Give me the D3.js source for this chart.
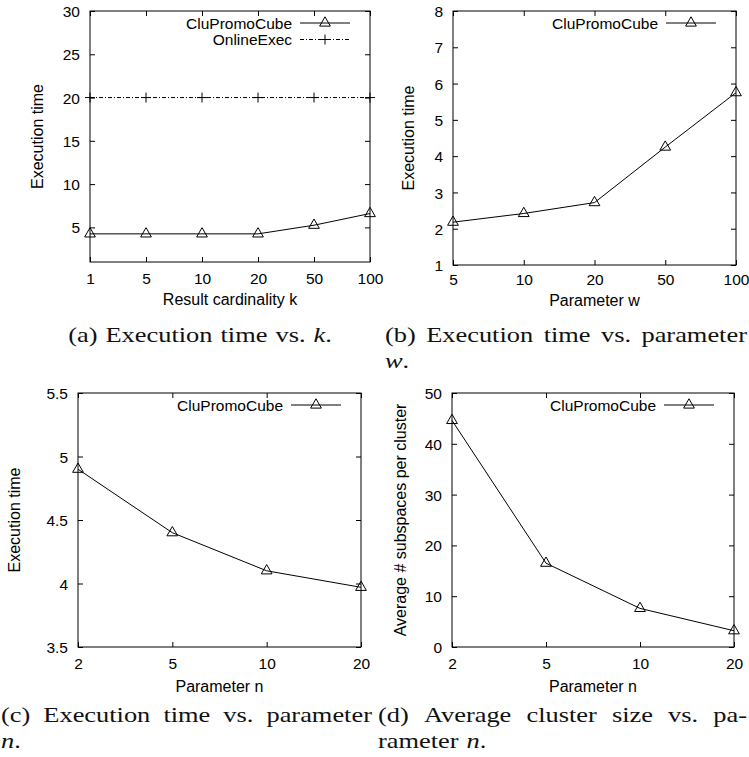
<!DOCTYPE html>
<html>
<head>
<meta charset="utf-8">
<script src="https://cdn.jsdelivr.net/npm/d3@7"></script>
<style>
  body { margin: 0; background: #fff; }
  text { font-family: "Liberation Sans", Arial, sans-serif; fill: #000; }
  .cap { font-family: "Liberation Serif", "Times New Roman", serif; fill: #111; }
</style>
</head>
<body>
<svg id="fig" width="749" height="757"></svg>
<script>
// ---- data ----
var kCats = ["1", "5", "10", "20", "50", "100"];
var kCube = [4.25, 4.25, 4.25, 4.25, 5.25, 6.6];
var kOnline = [20, 20, 20, 20, 20, 20];
var kTicks = [5, 10, 15, 20, 25, 30];

var wCats = ["5", "10", "20", "50", "100"];
var wCube = [2.18, 2.42, 2.72, 4.25, 5.75];
var wTicks = [1, 2, 3, 4, 5, 6, 7, 8];

var nCats = ["2", "5", "10", "20"];
var nTime = [4.9, 4.4, 4.1, 3.97];
var nTimeTicks = [3.5, 4, 4.5, 5, 5.5];
var nSize = [44.6, 16.5, 7.6, 3.2];
var nSizeTicks = [0, 10, 20, 30, 40, 50];

var captionA = ["(a) Execution time vs. *k*."];
var captionB = ["(b) Execution time vs. parameter", "*w*."];
var captionC = ["(c) Execution time vs. parameter", "*n*."];
var captionD = ["(d) Average cluster size vs. pa-", "rameter *n*."];

var svg = d3.select('#fig');

var panels = [
  { box: [90, 11, 370, 262], cats: kCats, domain: [1, 30], ticks: kTicks,
    series: [{ name: 'CluPromoCube', values: kCube, mark: 'tri' },
             { name: 'OnlineExec', values: kOnline, mark: 'plus', dash: '4,2,1,2' }],
    xlabel: 'Result cardinality k', ylabel: 'Execution time', ylabelX: 37,
    tickBase: 284, xlabelBase: 305 },
  { box: [453, 11, 736, 265], cats: wCats, domain: [1, 8], ticks: wTicks,
    series: [{ name: 'CluPromoCube', values: wCube, mark: 'tri' }],
    xlabel: 'Parameter w', ylabel: 'Execution time', ylabelX: 408,
    tickBase: 285, xlabelBase: 306 },
  { box: [78, 393, 361, 647], cats: nCats, domain: [3.5, 5.5], ticks: nTimeTicks,
    series: [{ name: 'CluPromoCube', values: nTime, mark: 'tri' }],
    xlabel: 'Parameter n', ylabel: 'Execution time', ylabelX: 14,
    tickBase: 669, xlabelBase: 692 },
  { box: [452, 393, 734, 647], cats: nCats, domain: [0, 50], ticks: nSizeTicks,
    series: [{ name: 'CluPromoCube', values: nSize, mark: 'tri' }],
    xlabel: 'Parameter n', ylabel: 'Average # subspaces per cluster', ylabelX: 400,
    tickBase: 669, xlabelBase: 692 }
];

var tri = d3.symbol().type(d3.symbolTriangle).size(50);

function marker(sel, kind) {
  if (kind === 'tri') {
    sel.append('path').attr('d', tri).attr('fill', 'none')
      .attr('stroke', '#000').attr('stroke-width', 1);
  } else {
    sel.append('path').attr('d', 'M-5,0H5M0,-5V5').attr('fill', 'none')
      .attr('stroke', '#000').attr('stroke-width', 1);
  }
}

function drawPanel(p) {
  var L = p.box[0], T = p.box[1], R = p.box[2], B = p.box[3];
  var g = svg.append('g');
  var x = d3.scalePoint().domain(p.cats).range([L, R]);
  var y = d3.scaleLinear().domain(p.domain).range([B, T]);

  // bottom + top (mirrored) ticks, inward
  var bx = g.append('g').attr('transform', 'translate(0,' + B + ')')
    .call(d3.axisBottom(x).tickSize(-5));
  bx.selectAll('text').attr('y', p.tickBase - B).attr('dy', null)
    .style('font-size', '15.5px');
  g.append('g').attr('transform', 'translate(0,' + T + ')')
    .call(d3.axisTop(x).tickSize(-5).tickFormat(''));

  // left + right ticks, inward
  var ly = g.append('g').attr('transform', 'translate(' + L + ',0)')
    .call(d3.axisLeft(y).tickValues(p.ticks).tickSize(-5).tickPadding(10).tickFormat(String));
  ly.selectAll('text').style('font-size', '15.5px').attr('dy', '0.36em');
  g.append('g').attr('transform', 'translate(' + R + ',0)')
    .call(d3.axisRight(y).tickValues(p.ticks).tickSize(-5).tickFormat(''));

  g.selectAll('.domain').remove();
  g.selectAll('.tick line').attr('stroke', '#000');
  g.selectAll('.tick text').attr('fill', '#000').style('font-family', '"Liberation Sans", Arial, sans-serif');

  g.append('rect').attr('x', L).attr('y', T).attr('width', R - L).attr('height', B - T)
    .attr('fill', 'none').attr('stroke', '#000').attr('stroke-width', 1);

  // axis titles
  g.append('text').attr('x', (L + R) / 2).attr('y', p.xlabelBase)
    .attr('text-anchor', 'middle').style('font-size', '16px').text(p.xlabel);
  g.append('text')
    .attr('transform', 'translate(' + p.ylabelX + ',' + (T + B) / 2 + ') rotate(-90)')
    .attr('text-anchor', 'middle').attr('dy', '0.36em').style('font-size', '16px')
    .text(p.ylabel);

  var line = d3.line()
    .x(function(d, i) { return x(p.cats[i]); })
    .y(function(d) { return y(d); });

  p.series.forEach(function(s, si) {
    g.append('path').datum(s.values).attr('d', line)
      .attr('fill', 'none').attr('stroke', '#000').attr('stroke-width', 1)
      .attr('stroke-dasharray', s.dash || null);
    g.selectAll('.pt' + si).data(s.values).enter().append('g')
      .attr('transform', function(d, i) { return 'translate(' + x(p.cats[i]) + ',' + y(d) + ')'; })
      .each(function() { marker(d3.select(this), s.mark); });

    // legend entry
    var ry = T + 12 + 16.5 * si;
    g.append('line').attr('x1', R - 70).attr('x2', R - 20).attr('y1', ry).attr('y2', ry)
      .attr('stroke', '#000').attr('stroke-width', 1).attr('stroke-dasharray', s.dash || null);
    marker(g.append('g').attr('transform', 'translate(' + (R - 45) + ',' + ry + ')'), s.mark);
    g.append('text').attr('x', R - 78).attr('y', ry + 5.5).attr('text-anchor', 'end')
      .style('font-size', '15.5px').text(s.name);
  });
}

panels.forEach(drawPanel);

// ---- captions (serif, stretched to mimic Computer Modern widths) ----
var capSize = 22, capStretch = 1.2, capSpace = 8;

function addWord(word) {
  var t = svg.append('text').attr('class', 'cap').style('font-size', capSize + 'px');
  word.split('*').forEach(function(part, i) {
    if (!part) return;
    t.append('tspan').style('font-style', i % 2 ? 'italic' : 'normal').text(part);
  });
  var w = t.node().getComputedTextLength() * capStretch;
  return { node: t, w: w };
}

function caption(lines, x0, base, width, center) {
  lines.forEach(function(str, li) {
    var y0 = base + li * 26;
    var words = str.split(' ').map(function(w) { return addWord(w); });
    var total = d3.sum(words, function(d) { return d.w; });
    var gap = capSpace;
    var start = x0;
    if (li === 0 && width && words.length > 1) gap = (width - total) / (words.length - 1);
    if (center != null) start = center - (total + gap * (words.length - 1)) / 2;
    var cx = start;
    words.forEach(function(w) {
      w.node.attr('transform', 'translate(' + cx + ',' + y0 + ') scale(' + capStretch + ',1)');
      cx += w.w + gap;
    });
  });
}

caption(captionA, 0, 342, null, 200);
caption(captionB, 385, 342, 362);
caption(captionC, 1, 722, 371);
caption(captionD, 378, 722, 369);
</script>
</body>
</html>
